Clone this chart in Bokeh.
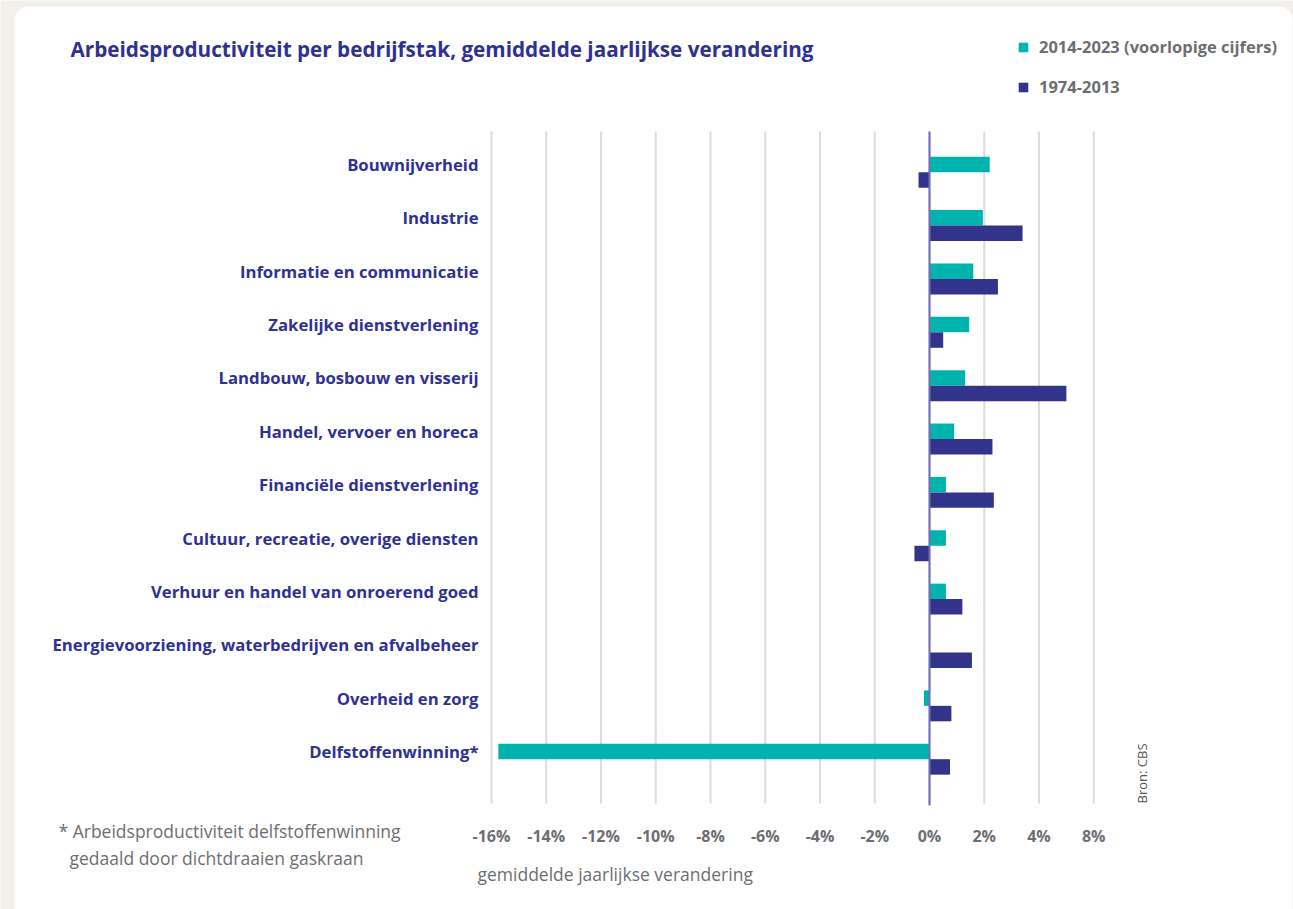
from bokeh.plotting import figure
from bokeh.models import (Range1d, Label, Legend, LegendItem, ColumnDataSource, BoxAnnotation)
from bokeh.core.properties import value
from bokeh.embed import file_html
from bokeh.resources import INLINE

# ---------------- data ----------------
categories = [
    "Bouwnijverheid",
    "Industrie",
    "Informatie en communicatie",
    "Zakelijke dienstverlening",
    "Landbouw, bosbouw en visserij",
    "Handel, vervoer en horeca",
    "Financiële dienstverlening",
    "Cultuur, recreatie, overige diensten",
    "Verhuur en handel van onroerend goed",
    "Energievoorziening, waterbedrijven en afvalbeheer",
    "Overheid en zorg",
    "Delfstoffenwinning*",
]
recent_2014_2023 = [2.2, 1.95, 1.6, 1.45, 1.3, 0.9, 0.6, 0.6, 0.6, 0.0, -0.2, -15.75]
older_1974_2013 = [-0.4, 3.4, 2.5, 0.5, 5.0, 2.3, 2.35, -0.55, 1.2, 1.55, 0.8, 0.75]
series_names = ["2014-2023 (voorlopige cijfers)", "1974-2013"]
tick_values = [-16, -14, -12, -10, -8, -6, -4, -2, 0, 2, 4, 6]
tick_labels = ["-16%", "-14%", "-12%", "-10%", "-8%", "-6%", "-4%", "-2%", "0%", "2%", "4%", "8%"]

title_text = "Arbeidsproductiviteit per bedrijfstak, gemiddelde jaarlijkse verandering"
x_title = "gemiddelde jaarlijkse verandering"
footnote_1 = "* Arbeidsproductiviteit delfstoffenwinning"
footnote_2 = "gedaald door dichtdraaien gaskraan"
source_text = "Bron: CBS"

# ---------------- styling ----------------
TEAL = "#00b4ad"
NAVY = "#32338b"
TITLE_C = "#2e3192"
GRAY = "#6d6e71"
FONT = "Open Sans"

W, H = 1293, 909
PX_PER_X = 27.375   # pixels per percentage point
PX_PER_Y = 53.36    # pixels per category
ZERO_PX = 929
FIRST_CAT_PY = 164

n = len(categories)
pos = [n - 1 - i for i in range(n)]
BAR_H = 0.29

def px2x(px):
    return (px - ZERO_PX) / PX_PER_X

def px2y(py):
    return (n - 1) - (py - FIRST_CAT_PY) / PX_PER_Y

src = ColumnDataSource(dict(
    y=pos,
    y2=[v - BAR_H for v in pos],
    recent=recent_2014_2023,
    older=older_1974_2013,
))

p = figure(width=W, height=H, output_backend="svg", toolbar_location=None,
           x_range=Range1d(px2x(0), px2x(W)), y_range=Range1d(px2y(H), px2y(0)),
           x_axis_type=None, y_axis_type=None,
           min_border=0, background_fill_color="#f3f0eb", border_fill_color="#f3f0eb",
           outline_line_color=None)

# white card
p.add_layout(BoxAnnotation(left=px2x(14), right=px2x(1292), top=px2y(6), bottom=px2y(930),
                           fill_color="white", fill_alpha=1, line_color=None,
                           border_radius=14, level="underlay"))

# gridlines
grid_top, grid_bottom = px2y(131), px2y(803)
p.segment(x0=tick_values, x1=tick_values, y0=[grid_bottom] * len(tick_values),
          y1=[grid_top] * len(tick_values), line_color="#dcdcdc", line_width=2)

r_teal = p.hbar(y="y", right="recent", left=0, height=BAR_H, source=src,
                fill_color=TEAL, line_color=None)
r_navy = p.hbar(y="y2", right="older", left=0, height=BAR_H, source=src,
                fill_color=NAVY, line_color=None)

# zero line
p.segment(x0=[0], x1=[0], y0=[px2y(805)], y1=[grid_top], line_color="#6e6eb4", line_width=2)

# category labels (y axis)
p.text(x=[px2x(478)] * n, y=pos, text=categories, text_align="right", text_baseline="middle",
       text_font=value(FONT), text_font_size="16.7px", text_font_style="bold",
       text_color=TITLE_C)

# x tick labels
p.text(x=tick_values, y=[px2y(835)] * len(tick_values), text=tick_labels,
       text_align="center", text_baseline="middle", text_font=value(FONT),
       text_font_size="16px", text_font_style="bold", text_color=GRAY)

def add_label(text, px, py, size, color, style="normal", align="left", angle=0):
    p.add_layout(Label(x=px2x(px), y=px2y(py), text=text, text_font=FONT,
                       text_font_size=size, text_color=color, text_font_style=style,
                       text_align=align, text_baseline="middle", angle=angle))

add_label(title_text, 70, 48, "20.7px", TITLE_C, "bold")
add_label(x_title, 477, 873, "17.5px", GRAY)
add_label(footnote_1, 58, 830, "17.5px", GRAY)
add_label(footnote_2, 69, 857, "17.5px", GRAY)
add_label(source_text, 1141, 803, "13px", "#555555", angle=1.5707963)

legend = Legend(items=[LegendItem(label=series_names[0], renderers=[r_teal]),
                       LegendItem(label=series_names[1], renderers=[r_navy])],
                location=(1017, H - 98), orientation="vertical",
                glyph_width=12, glyph_height=12, label_standoff=10, spacing=17,
                padding=0, margin=0, border_line_color=None, background_fill_alpha=0,
                label_text_font=FONT, label_text_font_size="16.5px",
                label_text_font_style="bold", label_text_color=GRAY, label_height=12)
p.add_layout(legend)

open("out.html", "w").write(file_html(p, INLINE))
